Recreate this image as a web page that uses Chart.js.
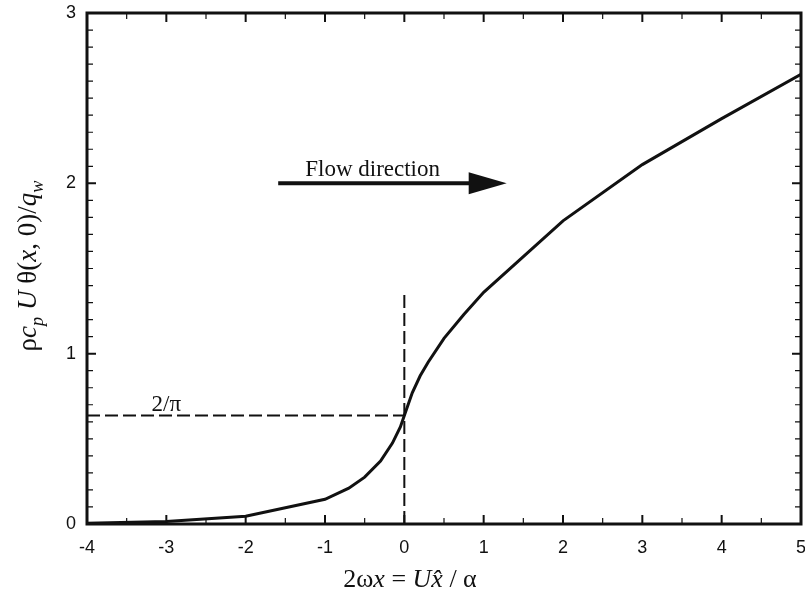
<!DOCTYPE html>
<html>
<head>
<meta charset="utf-8">
<script src="https://cdn.jsdelivr.net/npm/chart.js@4"></script>
<style>
  html, body { margin: 0; padding: 0; background: #fff; }
  #wrap { width: 805px; height: 602px; }
</style>
</head>
<body>
<div id="wrap"><canvas id="chart"></canvas></div>
<script>
// curve values
const xValues = [-4, -3, -2, -1, -0.7, -0.5, -0.3, -0.15, -0.05, 0, 0.1, 0.2, 0.3, 0.5, 0.75, 1, 2, 3, 4, 5];
const yValues = [0.005, 0.015, 0.045, 0.145, 0.21, 0.275, 0.37, 0.475, 0.57, 0.637, 0.77, 0.87, 0.95, 1.09, 1.23, 1.36, 1.78, 2.11, 2.38, 2.64];

// reference lines
const twoOverPi = 2 / Math.PI;
const hLineX = [-4, 0];
const vLineY = [0, 1.36];

// annotations
const arrowX = [-1.59, 1.29];
const arrowY = 2.0;
const flowLabel = { text: "Flow direction", x: -0.4, y: 2.08 };
const piLabel = { text: "2/\u03C0", x: -3.0, y: 0.7 };

const xTicks = [-4, -3, -2, -1, 0, 1, 2, 3, 4, 5];
const yTicks = [0, 1, 2, 3];

const serif = "'Liberation Serif', 'Times New Roman', serif";
const sans = "'Liberation Sans', Arial, Helvetica, sans-serif";

// draw a run of [text, italic, subscript] pieces starting at x, baseline y
function drawRuns(ctx, runs, size, x, y) {
  runs.forEach(([t, it, sub]) => {
    const s = sub ? size * 0.68 : size;
    ctx.font = (it ? "italic " : "") + s + "px " + serif;
    ctx.fillText(t, x, y + (sub ? size * 0.25 : 0));
    x += ctx.measureText(t).width;
  });
}
function runsWidth(ctx, runs, size) {
  let w = 0;
  runs.forEach(([t, it, sub]) => {
    const s = sub ? size * 0.68 : size;
    ctx.font = (it ? "italic " : "") + s + "px " + serif;
    w += ctx.measureText(t).width;
  });
  return w;
}

const framePlugin = {
  id: "frame",
  afterDatasetsDraw(chart) {
    const { ctx, chartArea: a, scales: { x, y } } = chart;
    ctx.save();
    ctx.strokeStyle = "#111";

    // inward ticks on all four sides
    for (let i = -40; i <= 50; i += 5) {
      const v = i / 10;
      const px = x.getPixelForValue(v);
      const major = i % 10 === 0;
      const len = major ? 9 : 6;
      ctx.lineWidth = major ? 2 : 1.2;
      ctx.beginPath();
      ctx.moveTo(px, a.bottom); ctx.lineTo(px, a.bottom - len);
      ctx.moveTo(px, a.top); ctx.lineTo(px, a.top + len);
      ctx.stroke();
    }
    for (let i = 0; i <= 30; i++) {
      const py = y.getPixelForValue(i / 10);
      const major = i % 10 === 0;
      const len = major ? 9 : 6;
      ctx.lineWidth = major ? 2 : 1.2;
      ctx.beginPath();
      ctx.moveTo(a.left, py); ctx.lineTo(a.left + len, py);
      ctx.moveTo(a.right, py); ctx.lineTo(a.right - len, py);
      ctx.stroke();
    }

    // frame
    ctx.lineWidth = 3;
    ctx.strokeRect(a.left, a.top, a.right - a.left, a.bottom - a.top);

    // flow arrow
    const x0 = x.getPixelForValue(arrowX[0]);
    const x1 = x.getPixelForValue(arrowX[1]);
    const ay = y.getPixelForValue(arrowY);
    ctx.fillStyle = "#111";
    ctx.lineWidth = 4;
    ctx.beginPath();
    ctx.moveTo(x0, ay); ctx.lineTo(x1 - 30, ay);
    ctx.stroke();
    ctx.beginPath();
    ctx.moveTo(x1, ay);
    ctx.lineTo(x1 - 38, ay - 11);
    ctx.lineTo(x1 - 38, ay + 11);
    ctx.closePath();
    ctx.fill();

    // labels
    ctx.font = "23px " + serif;
    ctx.textAlign = "center";
    ctx.textBaseline = "middle";
    ctx.fillText(flowLabel.text, x.getPixelForValue(flowLabel.x), y.getPixelForValue(flowLabel.y));
    ctx.fillText(piLabel.text, x.getPixelForValue(piLabel.x), y.getPixelForValue(piLabel.y));

    // axis titles
    ctx.textAlign = "left";
    ctx.textBaseline = "alphabetic";
    const xt = [["2\u03C9", false], ["x", true], [" = ", false], ["U", true], ["x\u0302", true], [" / \u03B1", false]];
    const xw = runsWidth(ctx, xt, 26);
    drawRuns(ctx, xt, 26, 410 - xw / 2, 587);

    const yt = [["\u03C1", false], ["c", true], ["p", true, true], [" U", true], [" \u03B8(", false], ["x", true], [", 0)/", false], ["q", true], ["w", true, true]];
    const yw = runsWidth(ctx, yt, 27);
    ctx.translate(36, 266);
    ctx.rotate(-Math.PI / 2);
    drawRuns(ctx, yt, 27, -yw / 2, 0);
    ctx.restore();
  }
};

const ctx = document.getElementById("chart").getContext("2d");
new Chart(ctx, {
  type: "line",
  data: {
    datasets: [
      {
        data: xValues.map((v, i) => ({ x: v, y: yValues[i] })),
        borderColor: "#111",
        borderWidth: 3,
        pointRadius: 0,
        tension: 0
      },
      {
        data: hLineX.map(v => ({ x: v, y: twoOverPi })),
        borderColor: "#111",
        borderWidth: 2,
        borderDash: [13, 5],
        pointRadius: 0
      },
      {
        data: vLineY.map(v => ({ x: 0, y: v })),
        borderColor: "#111",
        borderWidth: 2,
        borderDash: [13, 5],
        pointRadius: 0
      }
    ]
  },
  options: {
    responsive: true,
    maintainAspectRatio: false,
    animation: false,
    layout: { padding: { top: 13, right: 4, left: 0, bottom: 0 } },
    plugins: { legend: { display: false }, tooltip: { enabled: false } },
    scales: {
      x: {
        type: "linear",
        min: -4,
        max: 5,
        afterBuildTicks: s => { s.ticks = xTicks.map(v => ({ value: v })); },
        afterFit: s => { s.height = 78; s.paddingLeft = 0; s.paddingRight = 0; },
        grid: { display: false, drawTicks: false },
        border: { display: false },
        ticks: { color: "#111", padding: 13, maxRotation: 0, font: { family: sans, size: 18 } }
      },
      y: {
        min: 0,
        max: 3,
        afterBuildTicks: s => { s.ticks = yTicks.map(v => ({ value: v })); },
        afterFit: s => { s.width = 87; s.paddingTop = 0; s.paddingBottom = 0; },
        grid: { display: false, drawTicks: false },
        border: { display: false },
        ticks: { color: "#111", padding: 11, font: { family: sans, size: 18 } }
      }
    }
  },
  plugins: [framePlugin]
});
</script>
</body>
</html>
